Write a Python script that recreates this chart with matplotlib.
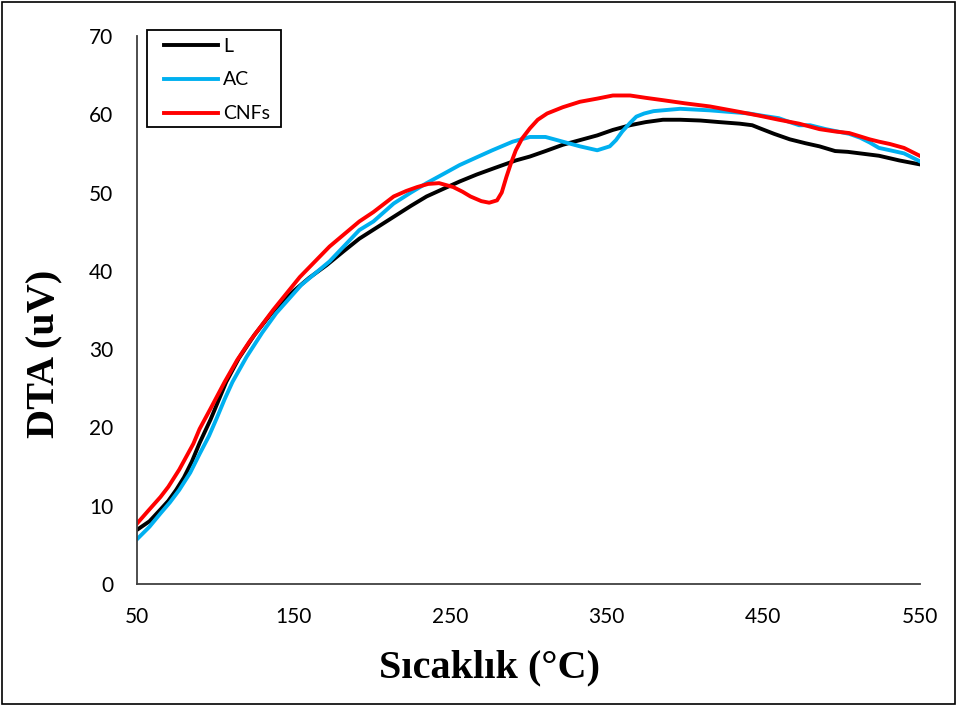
import matplotlib.pyplot as plt

# temperatures (C) and DTA readings (uV)
l_temp = [50, 58, 65, 70, 75, 80, 85, 90, 97, 107, 115, 125, 136, 150, 160, 171, 182, 192, 203, 214, 225, 235, 246, 256, 267, 278, 292, 301, 311, 322, 333, 344, 354, 365, 375, 386, 397, 410, 422, 435, 443, 448, 457, 467, 477, 486, 496, 504, 512, 524, 537, 550]
l_dta = [6.9, 8.0, 9.5, 10.6, 12.0, 13.6, 15.6, 18.0, 21.0, 25.8, 28.8, 31.8, 34.6, 37.4, 39.1, 40.7, 42.5, 44.1, 45.5, 46.9, 48.3, 49.5, 50.5, 51.4, 52.3, 53.1, 54.1, 54.6, 55.3, 56.1, 56.7, 57.3, 58.0, 58.6, 59.0, 59.3, 59.3, 59.2, 59.0, 58.8, 58.6, 58.2, 57.5, 56.8, 56.3, 55.9, 55.3, 55.2, 55.0, 54.7, 54.1, 53.6]

ac_temp = [50, 58, 65, 71, 77, 84, 90, 96, 101, 106, 111, 120, 130, 139, 155, 173, 192, 201, 214, 225, 235, 246, 256, 267, 277, 290, 301, 311, 322, 333, 344, 352, 356, 360, 365, 369, 374, 380, 397, 416, 435, 441, 450, 460, 467, 473, 480, 490, 505, 512, 518, 524, 531, 540, 550]
ac_dta = [5.7, 7.3, 9.0, 10.4, 12.0, 14.2, 16.6, 18.9, 21.2, 23.6, 25.8, 29.0, 32.1, 34.6, 38.2, 41.2, 45.2, 46.3, 48.6, 50.0, 51.2, 52.4, 53.5, 54.5, 55.4, 56.5, 57.1, 57.1, 56.5, 55.9, 55.4, 55.9, 56.7, 57.8, 58.9, 59.7, 60.1, 60.4, 60.7, 60.5, 60.2, 60.1, 59.8, 59.5, 59.0, 58.6, 58.6, 58.1, 57.5, 57.0, 56.4, 55.7, 55.4, 55.0, 54.0]

cnf_temp = [50, 57, 65, 70, 77, 86, 90, 97, 106, 114, 122, 137, 154, 173, 192, 201, 214, 222, 229, 236, 243, 252, 258, 263, 270, 275, 280, 283, 286, 289, 292, 296, 301, 306, 312, 322, 333, 344, 354, 365, 375, 386, 400, 416, 435, 448, 460, 473, 486, 496, 505, 518, 524, 531, 540, 550]
cnf_dta = [7.7, 9.3, 11.1, 12.4, 14.6, 17.9, 19.8, 22.4, 25.8, 28.6, 31.0, 35.0, 39.2, 43.1, 46.3, 47.5, 49.5, 50.2, 50.7, 51.1, 51.2, 50.7, 50.1, 49.5, 48.9, 48.7, 49.0, 50.0, 52.0, 53.8, 55.4, 56.9, 58.2, 59.3, 60.1, 60.9, 61.6, 62.0, 62.4, 62.4, 62.1, 61.8, 61.4, 61.0, 60.3, 59.8, 59.3, 58.8, 58.1, 57.8, 57.6, 56.8, 56.5, 56.2, 55.7, 54.7]

plt.rcParams['font.family'] = ['Lato', 'DejaVu Sans']

fig = plt.figure(figsize=(9.58, 7.06), dpi=100)
ax = fig.add_axes([0.143, 0.173, 0.817, 0.776])

ax.plot(l_temp, l_dta, color='black', lw=2.8, label='L')
ax.plot(ac_temp, ac_dta, color='#00b0f0', lw=2.8, label='AC')
ax.plot(cnf_temp, cnf_dta, color='#ff0000', lw=2.8, label='CNFs')

ax.set_xlim(50, 550)
ax.set_ylim(0, 70)
ax.set_xticks([50, 150, 250, 350, 450, 550])
ax.set_yticks(range(0, 71, 10))
ax.tick_params(length=0, labelsize=15)
ax.tick_params(axis='x', pad=17)
ax.tick_params(axis='y', pad=17)
for s in ['top', 'right']:
    ax.spines[s].set_visible(False)
for s in ['left', 'bottom']:
    ax.spines[s].set_color('#404040')
    ax.spines[s].set_linewidth(1.3)

ax.set_xlabel('Sıcaklık (°C)', family='Liberation Serif', fontweight='bold', fontsize=29, va='center')
ax.xaxis.set_label_coords(0.451, -0.153)
ax.set_ylabel('DTA (uV)', family='Liberation Serif', fontweight='bold', fontsize=29, va='center')
ax.yaxis.set_label_coords(-0.1175, 0.42)

# legend without its own frame; the box is drawn separately (Excel-style padding)
leg = ax.legend(loc='upper left', bbox_to_anchor=(0.1712, 0.9468), bbox_transform=fig.transFigure,
                fontsize=14, frameon=False, borderpad=0, borderaxespad=0, handlelength=2.8,
                handletextpad=0.25, labelspacing=0.87)
fig.patches.append(plt.Rectangle((0.1534, 0.8201), 0.1399, 0.1374, transform=fig.transFigure,
                                 fill=False, edgecolor='black', lw=1.3))

fig.patches.append(plt.Rectangle((0.002, 0.003), 0.995, 0.994, transform=fig.transFigure,
                                 fill=False, edgecolor='black', lw=1.2))

fig.savefig('out.png', dpi=100)
